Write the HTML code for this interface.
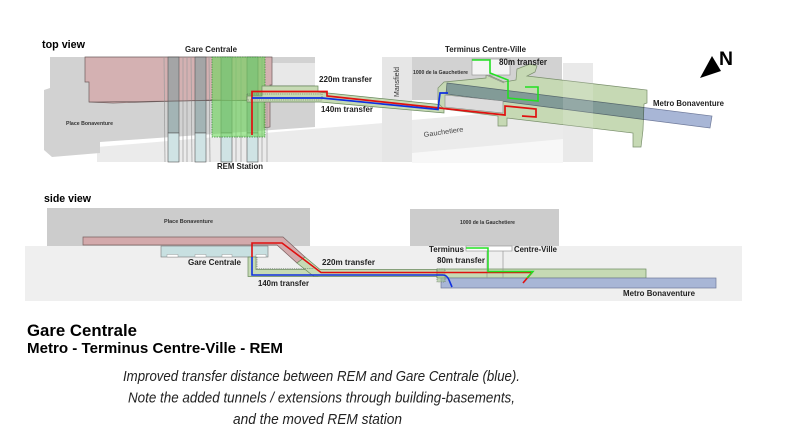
<!DOCTYPE html>
<html>
<head>
<meta charset="utf-8">
<style>
html,body{margin:0;padding:0;background:#fff;}
svg{display:block;}
text{font-family:"Liberation Sans",Arial,sans-serif;}
</style>
</head>
<body>
<svg width="794" height="433" viewBox="0 0 794 433" xmlns="http://www.w3.org/2000/svg">
<rect width="794" height="433" fill="#fff"/>

<!-- ================= TOP VIEW ================= -->
<polygon points="97,147 383,123 412,120 563,107 593,104 593,162 97,162" fill="#ebebeb"/>
<polygon points="412,153 563,139 563,163 412,163" fill="#f7f7f7"/>
<rect x="382" y="57" width="30" height="105" fill="#e6e6e6"/>
<rect x="563" y="63" width="30" height="99" fill="#e6e6e6"/>
<polygon points="50,57 315,57 315,127 100,142 100,153 52,157 44,150 44,90 50,88" fill="#d2d2d2"/>
<rect x="272" y="63" width="43" height="22" fill="#e8e8e8"/>
<rect x="412" y="57" width="150" height="43" fill="#d2d2d2"/>

<polygon points="85,57 272,57 272,85 270,85 270,127 264,128 264,101 213,100 113,103 89,102 89,82 85,82" fill="#d4b1b2" stroke="#6e5c5c" stroke-width="0.7"/>

<g stroke="#555" stroke-width="0.6">
<rect x="168" y="57" width="11" height="76" fill="#7c9a9c" fill-opacity="0.55"/>
<rect x="168" y="133" width="11" height="29" fill="#cfe3e4"/>
<rect x="195" y="57" width="11" height="76" fill="#7c9a9c" fill-opacity="0.55"/>
<rect x="195" y="133" width="11" height="29" fill="#cfe3e4"/>
<rect x="221" y="57" width="11" height="76" fill="#7c9a9c" fill-opacity="0.55"/>
<rect x="221" y="133" width="11" height="29" fill="#cfe3e4"/>
<rect x="247" y="57" width="11" height="76" fill="#7c9a9c" fill-opacity="0.55"/>
<rect x="247" y="133" width="11" height="29" fill="#cfe3e4"/>
</g>
<g stroke="#9a9a9a" stroke-width="0.7">
<line x1="164" y1="57" x2="165" y2="162"/>
<line x1="183" y1="57" x2="183" y2="162"/>
<line x1="187" y1="57" x2="187" y2="162"/>
<line x1="191" y1="57" x2="192" y2="162"/>
<line x1="209" y1="57" x2="210" y2="162"/>
<line x1="236" y1="57" x2="236" y2="162"/>
<line x1="241" y1="57" x2="241" y2="162"/>
<line x1="262" y1="57" x2="262" y2="162"/>
<line x1="267" y1="100" x2="267" y2="162"/>
</g>
<line x1="89" y1="102" x2="264" y2="100" stroke="#6e5c5c" stroke-width="0.6"/>

<rect x="212" y="57" width="53" height="80" fill="#6fd65e" fill-opacity="0.62" stroke="#3a8a3a" stroke-width="0.7" stroke-dasharray="1.5 1"/>

<polygon points="262,86 318,86 318,92 444,105 444,113 320,102 247,102 247,96 262,96" fill="#c6dab4" stroke="#6b8a5e" stroke-width="0.7"/>
<rect x="247" y="94" width="75" height="6" fill="none" stroke="#556655" stroke-width="0.6" stroke-dasharray="1.2 1"/>

<polygon points="486,74 504,82 516,80 517,69 530,64 537,66 535,72 527,76 647,90 647,103 644,104 643,130 641,147 633,147 633,133 507,118 507,126 498,126 498,116 444,109 438,103 438,88 444,82 486,78" fill="#c6d9b4" stroke="#7a8f6c" stroke-width="0.7"/>
<polygon points="447,83 712,116 710,128 446,94" fill="#a8b6d6" stroke="#6f7a9a" stroke-width="0.7" style="mix-blend-mode:multiply"/>
<polygon points="445,95 503,101 503,113 445,107" fill="#dcdcdc" stroke="#888" stroke-width="0.6"/>
<rect x="563" y="63" width="30" height="99" fill="#fff" opacity="0.15"/>
<rect x="472" y="59" width="38" height="16" fill="#f4f4f4" stroke="#999" stroke-width="0.7"/>
<line x1="490" y1="59" x2="490" y2="75" stroke="#999" stroke-width="0.7"/>
<polyline points="486,75 504,83" fill="none" stroke="#888" stroke-width="0.6"/>

<polyline points="252,135 252,91.5 327,91.5 327,96 505,115 505,106 536,109 536,117 522,116" fill="none" stroke="#e01010" stroke-width="1.7"/>
<polyline points="252,98 322,98 438,109.5 440,93 448,93" fill="none" stroke="#1030e0" stroke-width="1.7"/>
<polyline points="472,60 490,60 490,73 508,80 508,98 538,101 538,87 525,87" fill="none" stroke="#22e022" stroke-width="1.6"/>

<polygon points="700,78 712,56 721,71" fill="#000"/>
<text x="719" y="65" font-size="19" font-weight="bold" textLength="14" lengthAdjust="spacingAndGlyphs">N</text>

<text x="42" y="48" font-size="11" font-weight="bold" textLength="43" lengthAdjust="spacingAndGlyphs">top view</text>
<text x="185" y="52" font-size="8.5" font-weight="bold" fill="#222" textLength="52" lengthAdjust="spacingAndGlyphs">Gare Centrale</text>
<text x="319" y="82" font-size="8.5" font-weight="bold" fill="#222" textLength="53" lengthAdjust="spacingAndGlyphs">220m transfer</text>
<text x="321" y="112" font-size="8.5" font-weight="bold" fill="#222" textLength="52" lengthAdjust="spacingAndGlyphs">140m transfer</text>
<text x="66" y="125" font-size="5.5" font-weight="bold" fill="#333" textLength="47" lengthAdjust="spacingAndGlyphs">Place Bonaventure</text>
<text x="217" y="169" font-size="8.5" font-weight="bold" fill="#222" textLength="46" lengthAdjust="spacingAndGlyphs">REM Station</text>
<text transform="translate(399,97) rotate(-90)" font-size="7" fill="#333" textLength="30" lengthAdjust="spacingAndGlyphs">Mansfield</text>
<text x="445" y="52" font-size="8.5" font-weight="bold" fill="#222" textLength="81" lengthAdjust="spacingAndGlyphs">Terminus Centre-Ville</text>
<text x="499" y="65" font-size="9" font-weight="bold" fill="#222" textLength="48" lengthAdjust="spacingAndGlyphs">80m transfer</text>
<text x="413" y="74" font-size="5.5" font-weight="bold" fill="#333" textLength="55" lengthAdjust="spacingAndGlyphs">1000 de la Gauchetiere</text>
<text transform="translate(424,137) rotate(-8)" font-size="7" fill="#444" textLength="40" lengthAdjust="spacingAndGlyphs">Gauchetiere</text>
<text x="653" y="106" font-size="8.5" font-weight="bold" fill="#222" textLength="71" lengthAdjust="spacingAndGlyphs">Metro Bonaventure</text>

<!-- ================= SIDE VIEW ================= -->
<rect x="25" y="246" width="717" height="55" fill="#efefef"/>
<rect x="47" y="208" width="263" height="38" fill="#cccccc"/>
<rect x="410" y="209" width="149" height="37" fill="#cccccc"/>

<polygon points="83,237 283,237 305,257 297,263 277,245 83,245" fill="#d3a9ab" stroke="#7a6060" stroke-width="0.7"/>

<rect x="161" y="246" width="107" height="11" fill="#c8e0e1" stroke="#777" stroke-width="0.6"/>
<g fill="#fff" stroke="#888" stroke-width="0.4">
<rect x="167" y="254.5" width="11" height="2.5"/>
<rect x="195" y="254.5" width="11" height="2.5"/>
<rect x="222" y="254.5" width="10" height="2.5"/>
<rect x="256" y="254.5" width="10" height="2.5"/>
</g>

<polygon points="248,257 256,257 256,269.5 316,269.5 318,276.5 248,276.5" fill="#c6dab4" stroke="#6b8a5e" stroke-width="0.7"/>
<polygon points="297,263 305,257 320,269.5 440,269.5 440,276.5 314,276.5" fill="#c6dab4" stroke="#6b8a5e" stroke-width="0.7"/>
<polyline points="257,257 257,268.5 314,268.5" fill="none" stroke="#556655" stroke-width="0.6" stroke-dasharray="1.2 1"/>

<rect x="437" y="269" width="209" height="9" fill="#c6dab4" stroke="#6b8a5e" stroke-width="0.7"/>
<rect x="441" y="278" width="275" height="10" fill="#a8b6d6" stroke="#6f7a9a" stroke-width="0.7"/>
<rect x="437" y="269" width="8" height="13" fill="#9fbf8f" fill-opacity="0.6" stroke="#556655" stroke-width="0.6" stroke-dasharray="1.2 1"/>

<rect x="466" y="246" width="46" height="5" fill="#fff" stroke="#999" stroke-width="0.7"/>
<line x1="487" y1="251" x2="487" y2="278" stroke="#999" stroke-width="0.7"/>
<line x1="503" y1="251" x2="503" y2="278" stroke="#999" stroke-width="0.7"/>

<polyline points="252,257 252,243 282,243 321,272.5 532,272.5 523,283" fill="none" stroke="#e01010" stroke-width="1.6"/>
<path d="M252,257 V275 H443 Q447,275 449,280 L452,287" fill="none" stroke="#1030e0" stroke-width="1.6"/>
<polyline points="466,248 488,248 488,271.5 533,271.5 527,278" fill="none" stroke="#22e022" stroke-width="1.5"/>

<text x="44" y="202" font-size="11" font-weight="bold" textLength="47" lengthAdjust="spacingAndGlyphs">side view</text>
<text x="164" y="223" font-size="5.5" font-weight="bold" fill="#333" textLength="49" lengthAdjust="spacingAndGlyphs">Place Bonaventure</text>
<text x="188" y="265" font-size="8.5" font-weight="bold" fill="#222" textLength="53" lengthAdjust="spacingAndGlyphs">Gare Centrale</text>
<text x="322" y="265" font-size="8.5" font-weight="bold" fill="#222" textLength="53" lengthAdjust="spacingAndGlyphs">220m transfer</text>
<text x="258" y="286" font-size="8.5" font-weight="bold" fill="#222" textLength="51" lengthAdjust="spacingAndGlyphs">140m transfer</text>
<text x="460" y="224" font-size="5.5" font-weight="bold" fill="#333" textLength="55" lengthAdjust="spacingAndGlyphs">1000 de la Gauchetiere</text>
<text x="429" y="252" font-size="8.5" font-weight="bold" fill="#222" textLength="35" lengthAdjust="spacingAndGlyphs">Terminus</text>
<text x="514" y="252" font-size="8.5" font-weight="bold" fill="#222" textLength="43" lengthAdjust="spacingAndGlyphs">Centre-Ville</text>
<text x="437" y="263" font-size="8.5" font-weight="bold" fill="#222" textLength="48" lengthAdjust="spacingAndGlyphs">80m transfer</text>
<text x="623" y="296" font-size="8.5" font-weight="bold" fill="#222" textLength="72" lengthAdjust="spacingAndGlyphs">Metro Bonaventure</text>

<!-- ================= CAPTION ================= -->
<text x="27" y="336" font-size="17" font-weight="bold" fill="#000" textLength="110" lengthAdjust="spacingAndGlyphs">Gare Centrale</text>
<text x="27" y="353" font-size="15" font-weight="bold" fill="#000" textLength="256" lengthAdjust="spacingAndGlyphs">Metro - Terminus Centre-Ville - REM</text>
<text x="123" y="381" font-size="15" font-style="italic" fill="#222" textLength="397" lengthAdjust="spacingAndGlyphs">Improved transfer distance between REM and Gare Centrale (blue).</text>
<text x="128" y="402.5" font-size="15" font-style="italic" fill="#222" textLength="387" lengthAdjust="spacingAndGlyphs">Note the added tunnels / extensions through building-basements,</text>
<text x="233" y="424" font-size="15" font-style="italic" fill="#222" textLength="169" lengthAdjust="spacingAndGlyphs">and the moved REM station</text>
</svg>
</body>
</html>
